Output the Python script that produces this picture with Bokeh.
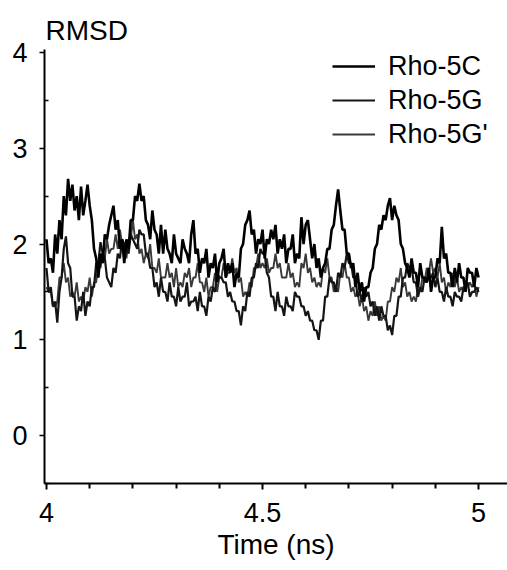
from bokeh.plotting import figure
from bokeh.models import Range1d, FixedTicker, NumeralTickFormatter, Legend, LegendItem, Title
from bokeh.embed import file_html
from bokeh.resources import INLINE
import numpy as np

# Time axis: 4.0 .. 5.0 ns, one sample every 0.005 ns (201 samples)
t_start, t_end, n_samples = 4.0, 5.0, 201

rho_5c = [
    2.05, 1.8, 1.85, 1.7, 2.1, 1.9, 2.25, 2.05, 2.5, 2.3,
    2.68, 2.45, 2.62, 2.35, 2.5, 2.25, 2.6, 2.3, 2.45, 2.62,
    2.4, 2.25, 1.95, 1.85, 1.65, 1.9, 1.8, 2.1, 2.05, 2.2,
    2.3, 2.4, 2.15, 2.25, 1.95, 2.05, 1.8, 2.05, 1.95, 2.25,
    2.25, 2.5, 2.45, 2.63, 2.45, 2.5, 2.25, 2.2, 2.05, 2.35,
    2.15, 2.1, 1.9, 2.2, 1.9, 2.15, 1.95, 1.9, 1.8, 2.1,
    1.9, 1.85, 1.8, 2.05, 1.95, 1.9, 1.8, 2.1, 2.25, 1.9,
    1.95, 1.7, 1.85, 1.8, 1.95, 1.65, 1.8, 1.75, 1.9, 1.6,
    1.8, 1.85, 1.95, 1.65, 1.8, 1.7, 1.8, 1.55, 1.7, 1.65,
    1.95, 2.0, 2.2, 2.25, 2.35, 2.1, 2.15, 1.9, 2.05, 2.0,
    2.15, 1.85, 2.05, 2.0, 2.15, 2.05, 2.2, 1.9, 2.05, 1.95,
    2.1, 1.8, 1.95, 1.95, 2.1, 1.8, 1.9, 1.85, 2.28, 2.0,
    2.2, 2.25, 2.05, 1.85, 2.0, 1.75, 1.85, 1.65, 1.75, 1.8,
    1.95, 1.95, 2.15, 2.2, 2.4, 2.57, 2.35, 2.15, 2.15, 1.9,
    1.9, 1.75, 1.8, 1.55, 1.7, 1.5, 1.6, 1.4, 1.55, 1.55,
    1.7, 1.75, 1.95, 2.0, 2.2, 2.15, 2.3, 2.25, 2.4, 2.48,
    2.25, 2.4, 2.3, 2.25, 2.0, 1.95, 1.8, 1.75, 1.65, 1.85,
    1.7, 1.7, 1.55, 1.8, 1.65, 1.65, 1.6, 1.75, 1.5, 1.65,
    1.65, 1.85, 1.8, 2.18, 1.85, 1.9, 1.7, 1.7, 1.55, 1.75,
    1.6, 1.8, 1.65, 1.65, 1.5, 1.75, 1.7, 1.7, 1.55, 1.75,
    1.65,
]

rho_5g = [
    1.75, 1.5, 1.55, 1.35, 1.4, 1.18, 1.5, 1.65, 1.95, 2.08,
    1.8, 1.75, 1.45, 1.45, 1.2, 1.35, 1.3, 1.5, 1.25, 1.4,
    1.35, 1.55, 1.55, 1.8, 1.8, 2.02, 1.9, 1.85, 1.65, 1.6,
    1.55, 1.75, 1.7, 1.9, 1.85, 2.05, 2.0, 1.95, 1.9, 2.1,
    2.05, 2.0, 1.95, 2.15, 2.1, 2.1, 1.9, 1.9, 1.75, 1.75,
    1.55, 1.6, 1.45, 1.65, 1.5, 1.5, 1.4, 1.6, 1.45, 1.45,
    1.35, 1.55, 1.4, 1.45, 1.45, 1.6, 1.35, 1.4, 1.4, 1.45,
    1.3, 1.5, 1.35, 1.35, 1.25, 1.45, 1.4, 1.55, 1.5, 1.7,
    1.65, 1.65, 1.6, 1.6, 1.45, 1.5, 1.4, 1.4, 1.3, 1.3,
    1.15, 1.35, 1.3, 1.5, 1.45, 1.65, 1.65, 1.8, 1.75, 1.95,
    1.9, 1.9, 1.7, 1.65, 1.45, 1.45, 1.3, 1.5, 1.35, 1.35,
    1.25, 1.45, 1.35, 1.35, 1.3, 1.5, 1.45, 1.45, 1.35, 1.35,
    1.25, 1.3, 1.2, 1.2, 1.1, 1.1, 1.0, 1.2, 1.2, 1.45,
    1.45, 1.65, 1.6, 1.6, 1.5, 1.7, 1.65, 1.8, 1.75, 1.9,
    1.8, 1.8, 1.65, 1.65, 1.45, 1.5, 1.4, 1.55, 1.45, 1.5,
    1.35, 1.4, 1.25, 1.35, 1.2, 1.35, 1.25, 1.25, 1.1, 1.15,
    1.05, 1.25, 1.25, 1.45, 1.45, 1.65, 1.65, 1.8, 1.75, 1.75,
    1.6, 1.6, 1.45, 1.55, 1.5, 1.65, 1.6, 1.65, 1.65, 1.7,
    1.55, 1.65, 1.5, 1.5, 1.4, 1.55, 1.45, 1.45, 1.35, 1.5,
    1.45, 1.45, 1.4, 1.55, 1.55, 1.6, 1.45, 1.5, 1.5, 1.55,
    1.5,
]

rho_5g_prime = [
    1.55, 1.5, 1.5, 1.35, 1.35, 1.4, 1.65, 1.65, 1.8, 1.6,
    1.65, 1.45, 1.5, 1.45, 1.6, 1.4, 1.45, 1.4, 1.55, 1.5,
    1.65, 1.45, 1.6, 1.6, 1.8, 1.75, 1.9, 1.85, 2.05, 1.9,
    1.95, 1.95, 2.1, 1.95, 2.15, 2.0, 2.0, 1.85, 2.05, 2.05,
    2.25, 2.05, 2.1, 1.9, 1.95, 1.8, 1.9, 1.85, 2.0, 1.75,
    1.75, 1.7, 1.85, 1.65, 1.65, 1.65, 1.8, 1.65, 1.7, 1.55,
    1.75, 1.55, 1.6, 1.55, 1.7, 1.65, 1.75, 1.55, 1.65, 1.65,
    1.8, 1.6, 1.6, 1.5, 1.65, 1.45, 1.55, 1.55, 1.7, 1.5,
    1.65, 1.65, 1.8, 1.65, 1.7, 1.7, 1.85, 1.7, 1.75, 1.6,
    1.65, 1.45, 1.5, 1.45, 1.6, 1.55, 1.75, 1.75, 1.9, 1.75,
    1.8, 1.75, 1.85, 1.7, 1.75, 1.75, 1.9, 1.75, 1.8, 1.65,
    1.65, 1.65, 1.8, 1.65, 1.7, 1.55, 1.6, 1.55, 1.8, 1.75,
    1.9, 1.7, 1.75, 1.6, 1.65, 1.55, 1.6, 1.55, 1.75, 1.7,
    1.85, 1.65, 1.65, 1.5, 1.55, 1.5, 1.7, 1.65, 1.8, 1.65,
    1.65, 1.5, 1.55, 1.45, 1.5, 1.35, 1.45, 1.3, 1.35, 1.2,
    1.3, 1.25, 1.4, 1.25, 1.35, 1.2, 1.25, 1.2, 1.4, 1.4,
    1.55, 1.5, 1.65, 1.6, 1.75, 1.55, 1.6, 1.45, 1.5, 1.4,
    1.45, 1.4, 1.55, 1.5, 1.65, 1.6, 1.75, 1.7, 1.85, 1.7,
    1.75, 1.65, 1.8, 1.6, 1.65, 1.5, 1.6, 1.55, 1.7, 1.55,
    1.65, 1.5, 1.55, 1.5, 1.6, 1.55, 1.6, 1.55, 1.6, 1.45,
    1.55,
]

series_names = ["Rho-5C", "Rho-5G", "Rho-5G'"]
x_ticks = [4, 4.5, 5]
x_minor_ticks = [4.1, 4.2, 4.3, 4.4, 4.6, 4.7, 4.8, 4.9]
y_ticks = [0, 1, 2, 3, 4]
y_minor_ticks = [-0.5, 0.5, 1.5, 2.5, 3.5]

time = np.linspace(t_start, t_end, n_samples)

FONT = "Liberation Sans"

p = figure(width=507, height=570, output_backend="svg", toolbar_location=None,
           x_range=Range1d(3.9954, 5.067), y_range=Range1d(-0.5, 4.031),
           min_border_left=44, min_border_right=0, min_border_top=49, min_border_bottom=87)
p.outline_line_color = None
p.xgrid.visible = False
p.ygrid.visible = False
p.background_fill_color = "white"
p.border_fill_color = "white"

r_gp = p.line(time, rho_5g_prime, line_color="#3a3a3a", line_width=1.9)
r_g = p.line(time, rho_5g, line_color="#151515", line_width=2.2)
r_c = p.line(time, rho_5c, line_color="#000000", line_width=2.6)

# axes
xa = p.xaxis[0]
xa.ticker = FixedTicker(ticks=x_ticks, minor_ticks=x_minor_ticks)
xa.formatter = NumeralTickFormatter(format="0.[0]")
xa.axis_label = "Time (ns)"
xa.axis_label_text_font = FONT
xa.axis_label_text_font_size = "28px"
xa.axis_label_text_font_style = "normal"
xa.axis_label_text_color = "black"
xa.axis_label_standoff = 4
xa.major_label_text_font = FONT
xa.major_label_text_font_size = "27px"
xa.major_label_text_color = "black"
xa.major_label_standoff = 13
xa.axis_line_width = 2
xa.major_tick_in = 0
xa.major_tick_out = 6
xa.minor_tick_in = 0
xa.minor_tick_out = 5
xa.major_tick_line_width = 2
xa.minor_tick_line_width = 2

ya = p.yaxis[0]
ya.ticker = FixedTicker(ticks=y_ticks, minor_ticks=y_minor_ticks)
ya.major_label_text_font = FONT
ya.major_label_text_font_size = "27px"
ya.major_label_text_color = "black"
ya.major_label_standoff = 12
ya.axis_line_width = 2
ya.major_tick_in = 0
ya.major_tick_out = 5
ya.minor_tick_in = 4
ya.minor_tick_out = 0
ya.major_tick_line_width = 1.5
ya.minor_tick_line_width = 1.5
ya.major_label_orientation = "horizontal"

p.add_layout(Title(text="RMSD", align="left", offset=1, standoff=8,
                   text_font=FONT, text_font_size="28px", text_font_style="normal",
                   text_color="black"), "above")

legend = Legend(items=[LegendItem(label=series_names[0], renderers=[r_c]),
                       LegendItem(label=series_names[1], renderers=[r_g]),
                       LegendItem(label=series_names[2], renderers=[r_gp])],
                location=(288, 333), padding=0, margin=0, spacing=2,
                glyph_width=43, glyph_height=32, label_height=32, label_standoff=13,
                label_text_font=FONT, label_text_font_size="27px",
                label_text_color="black",
                border_line_color=None, background_fill_alpha=0)
p.add_layout(legend)

open("out.html", "w").write(file_html(p, INLINE))
